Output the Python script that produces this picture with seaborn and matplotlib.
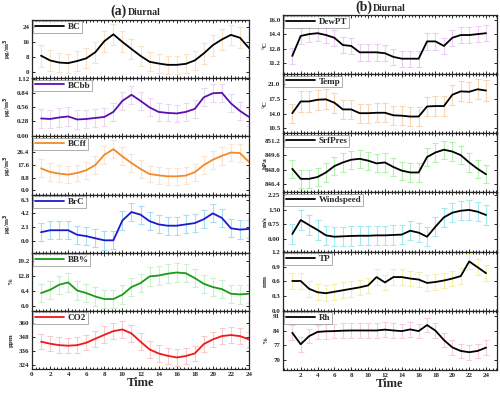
import numpy as np
import pandas as pd
import seaborn as sns
import matplotlib.pyplot as plt
from matplotlib.ticker import MultipleLocator

sns.set_style("ticks")
plt.rcParams['font.family'] = ['Liberation Serif', 'DejaVu Serif']
plt.rcParams['font.weight'] = 'bold'
plt.rcParams['mathtext.default'] = 'bf'

hours = list(range(1, 25))

# Left column (a)
bc = [8.8, 6.3, 5.2, 4.9, 6.0, 7.4, 10.6, 16.4, 20.0, 16.0, 12.3, 8.7,
      5.6, 4.7, 4.0, 4.0, 4.5, 6.3, 10.0, 14.3, 17.3, 19.7, 18.2, 12.8]
bc_err = [5.8, 5.5, 5.2, 5.0, 5.0, 5.2, 5.5, 5.6, 5.4, 5.5, 5.3, 5.2,
          5.0, 4.8, 4.8, 4.8, 5.0, 5.2, 5.5, 5.6, 5.5, 5.4, 5.6, 5.8]
bcbb = [0.34, 0.33, 0.36, 0.38, 0.32, 0.33, 0.35, 0.37, 0.47, 0.69, 0.81, 0.69,
        0.56, 0.47, 0.45, 0.44, 0.47, 0.53, 0.76, 0.84, 0.85, 0.64, 0.49, 0.37]
bcbb_err = [0.18, 0.18, 0.18, 0.19, 0.18, 0.18, 0.18, 0.18, 0.18, 0.18, 0.18, 0.18,
            0.18, 0.18, 0.17, 0.17, 0.18, 0.18, 0.18, 0.18, 0.18, 0.18, 0.18, 0.18]
bcff = [15.3, 12.8, 11.7, 11.0, 12.1, 14.0, 17.6, 24.7, 28.6, 23.6, 19.0, 14.9,
        11.4, 10.5, 9.8, 9.8, 10.3, 12.6, 17.6, 21.3, 24.0, 26.3, 25.9, 19.7]
bcff_err = [6.2, 6.0, 5.8, 5.8, 5.8, 6.0, 6.0, 6.2, 6.2, 6.2, 6.0, 6.0,
            5.8, 5.8, 5.8, 5.8, 5.8, 6.0, 6.0, 6.2, 6.2, 6.2, 6.2, 6.2]
brc = [1.3, 1.6, 1.6, 1.6, 0.9, 0.7, 0.36, 0.05, 0.05, 3.1, 4.4, 4.0,
       3.0, 2.5, 2.3, 2.3, 2.5, 2.7, 3.3, 4.2, 3.5, 1.9, 1.7, 1.8]
brc_err = [1.4, 1.4, 1.4, 1.4, 1.4, 1.4, 1.4, 1.5, 1.4, 1.4, 1.4, 1.4,
           1.4, 1.4, 1.4, 1.4, 1.4, 1.4, 1.4, 1.4, 1.4, 1.4, 1.4, 1.4]
bbp = [5.5, 6.9, 9.1, 10.1, 6.6, 5.5, 4.0, 2.9, 2.9, 4.8, 8.1, 9.8,
       12.7, 13.1, 13.9, 14.4, 14.1, 12.0, 9.5, 8.1, 7.2, 5.2, 4.9, 5.2]
bbp_err = [4.0, 4.0, 4.0, 4.0, 4.0, 4.0, 4.0, 4.0, 4.0, 4.0, 4.0, 4.0,
           4.0, 4.0, 4.0, 4.0, 4.0, 4.0, 4.0, 4.0, 4.0, 4.0, 4.0, 4.0]
co2 = [344.0, 342.3, 341.1, 340.6, 341.1, 343.1, 346.5, 349.8, 352.9, 354.3, 351.0, 344.0,
       337.5, 334.1, 332.1, 330.7, 331.9, 334.1, 342.0, 345.9, 348.7, 349.6, 348.7, 345.9]
co2_err = [6.5, 6.5, 6.5, 6.5, 6.5, 6.5, 6.8, 7.0, 7.0, 7.0, 7.0, 7.0,
           7.0, 7.0, 7.0, 7.0, 6.8, 6.5, 6.5, 6.5, 6.5, 6.5, 6.5, 6.5]

# Right column (b)
dewpt = [12.0, 14.2, 14.4, 14.5, 14.3, 14.0, 13.2, 13.1, 12.4, 12.4, 12.4, 12.3,
         11.9, 11.7, 11.7, 11.7, 13.6, 13.6, 13.1, 14.0, 14.3, 14.3, 14.4, 14.5]
dewpt_err = [0.9, 0.9, 0.9, 0.9, 0.9, 0.9, 0.9, 0.9, 0.9, 0.9, 0.9, 0.9,
             0.9, 0.9, 0.9, 0.9, 0.9, 0.9, 0.9, 0.9, 0.9, 0.9, 0.9, 0.9]
temp = [14.1, 16.9, 16.9, 17.3, 17.4, 16.6, 15.0, 15.0, 14.1, 14.1, 14.2, 14.2,
        13.6, 13.5, 13.3, 13.3, 15.7, 15.8, 15.8, 18.5, 19.3, 19.2, 19.8, 19.5]
temp_err = [2.3, 2.4, 2.4, 2.4, 2.4, 2.4, 2.3, 2.3, 2.3, 2.3, 2.3, 2.3,
            2.2, 2.2, 2.2, 2.2, 2.3, 2.3, 2.3, 2.4, 2.4, 2.4, 2.4, 2.4]
srfpres = [848.1, 847.0, 847.0, 847.2, 847.7, 848.4, 848.8, 849.1, 849.2, 849.0, 848.7, 848.8,
           848.3, 847.9, 847.7, 847.7, 849.4, 849.9, 850.2, 850.0, 849.6, 848.8, 848.1, 847.5]
srfpres_err = [1.0, 1.0, 1.0, 1.0, 1.0, 1.0, 1.0, 1.0, 1.0, 1.0, 1.0, 1.0,
               1.0, 1.0, 1.0, 1.0, 1.0, 1.0, 1.0, 1.0, 1.0, 1.0, 1.0, 1.0]
wind = [0.24, 0.96, 0.70, 0.45, 0.17, 0.10, 0.12, 0.14, 0.15, 0.15, 0.17, 0.17,
        0.19, 0.21, 0.41, 0.31, 0.10, 0.62, 1.10, 1.34, 1.44, 1.48, 1.39, 1.22]
wind_err = [0.5, 0.5, 0.5, 0.5, 0.5, 0.5, 0.5, 0.5, 0.5, 0.5, 0.5, 0.5,
            0.5, 0.5, 0.5, 0.5, 0.5, 0.5, 0.5, 0.5, 0.5, 0.5, 0.5, 0.5]
tp = [0.61, 0.61, 0.45, 0.38, 0.36, 0.39, 0.42, 0.45, 0.48, 0.52, 0.69, 0.58,
      0.69, 0.69, 0.66, 0.64, 0.57, 0.59, 0.62, 0.66, 0.71, 1.01, 0.89, 0.77]
tp_err = [0.16, 0.16, 0.16, 0.16, 0.16, 0.16, 0.16, 0.16, 0.16, 0.16, 0.16, 0.16,
          0.16, 0.16, 0.16, 0.16, 0.16, 0.16, 0.16, 0.16, 0.16, 0.16, 0.16, 0.16]
rh = [83.0, 77.5, 81.4, 83.4, 83.7, 83.8, 84.0, 84.1, 84.1, 84.1, 84.1, 84.5,
      84.1, 83.8, 84.6, 83.8, 86.7, 84.0, 79.5, 76.0, 74.3, 73.7, 74.3, 75.9]
rh_err = [3.5, 3.5, 3.5, 3.5, 3.5, 3.5, 3.5, 3.5, 3.5, 3.5, 3.5, 3.5,
          3.5, 3.5, 3.5, 3.5, 3.5, 3.5, 3.5, 3.5, 3.5, 3.5, 3.5, 3.5]

ug = r'μg/m$^{3}$'
# name, values, errors, line color, errorbar color, ylabel, ylim, yticks
left = [
    ("BC", bc, bc_err, "black", "#fbe2c6", ug, (-3, 27.5), [0, 8, 16, 24]),
    ("BCbb", bcbb, bcbb_err, "#5a10b0", "#ead8f2", ug, (-0.015, 1.14), [0.00, 0.28, 0.56, 0.84, 1.12]),
    ("BCff", bcff, bcff_err, "#f08a2a", "#fde4d0", ug, (-2.8, 37.5), [0.0, 8.8, 17.6, 26.4]),
    ("BrC", brc, brc_err, "#1a1ad0", "#a9ddf5", ug, (-1.85, 7.1), [0.0, 2.1, 4.2, 6.3]),
    ("BB%", bbp, bbp_err, "#1a9a1a", "#ccf0cc", "%", (-2.2, 23), [0.0, 6.4, 12.8, 19.2]),
    ("CO2", co2, co2_err, "#f01818", "#f8caca", "ppm", (321, 370), [324, 336, 348, 360]),
]
right = [
    ("DewPT", dewpt, dewpt_err, "black", "#ecccf6", "°C", (10.0, 16.5), [11.2, 12.8, 14.4, 16.0]),
    ("Temp", temp, temp_err, "black", "#f6d6b6", "°C", (9.3, 23.4), [10.5, 14.0, 17.5, 21.0]),
    ("SrfPres", srfpres, srfpres_err, "black", "#b6f0b0", "hPa", (845.5, 852.0), [846.4, 848.0, 849.6, 851.2]),
    ("Windspeed", wind, wind_err, "black", "#a2eaf2", "m/s", (-0.67, 2.38), [0.00, 0.75, 1.50, 2.25]),
    ("TP", tp, tp_err, "black", "#f5f0a6", "mm", (0.0, 1.21), [0.0, 0.3, 0.6, 0.9, 1.2]),
    ("Rh", rh, rh_err, "black", "#f6cce2", "%", (65.2, 93.5), [70, 77, 84, 91]),
]

fig = plt.figure(figsize=(5, 3.98), dpi=100)


def draw_column(panels, x0, w, y_top, y_bot, xlim, xticks, lab_x, fmt_list):
    n = len(panels)
    h = (y_top - y_bot) / n
    for i, (name, vals, errs, lc, ec, ylab, ylim, yt) in enumerate(panels):
        ax = fig.add_axes([x0, y_top - (i + 1) * h, w, h])
        df = pd.DataFrame({"Time": hours, "val": vals, "err": errs})
        ax.errorbar(df["Time"], df["val"], yerr=df["err"], fmt="none",
                    ecolor=ec, elinewidth=0.8, capsize=2.2, capthick=0.8, zorder=1)
        sns.lineplot(data=df, x="Time", y="val", color=lc, lw=1.3, ax=ax,
                     label=name, zorder=3)
        ax.set_xlim(*xlim)
        ax.set_ylim(*ylim)
        ax.set_yticks(yt)
        ax.set_yticklabels([fmt_list[i].format(v) for v in yt])
        ax.set_xticks(xticks)
        ax.xaxis.set_minor_locator(MultipleLocator(0.4))
        ax.tick_params(axis="both", which="both", direction="in", top=True,
                       right=True, labelsize=5, width=0.7, pad=2)
        ax.tick_params(which="major", length=2.5)
        ax.tick_params(which="minor", length=1.3)
        for sp in ax.spines.values():
            sp.set_linewidth(0.9)
        ax.set_ylabel(ylab, fontsize=5, fontweight="bold", labelpad=1)
        ax.yaxis.set_label_coords(lab_x, 0.5)
        leg = ax.legend(loc="upper left", fontsize=6.5, handlelength=3.2,
                        frameon=True, fancybox=False, borderaxespad=0.15,
                        borderpad=0.2, handletextpad=0.4)
        leg.get_frame().set_edgecolor("#888888")
        leg.get_frame().set_linewidth(0.6)
        for t in leg.get_texts():
            t.set_fontweight("bold")
        if i < n - 1:
            ax.set_xlabel("")
            ax.tick_params(labelbottom=False)
        else:
            ax.set_xlabel("Time", fontsize=9, fontweight="bold", labelpad=0)


fmt_left = ["{:.0f}", "{:.2f}", "{:.1f}", "{:.1f}", "{:.1f}", "{:.0f}"]
fmt_right = ["{:.1f}", "{:.1f}", "{:.1f}", "{:.2f}", "{:.1f}", "{:.0f}"]

draw_column(left, 0.064, 0.434, 0.9497, 0.0729, (0, 24), list(range(0, 25, 2)), -0.085, fmt_left)
draw_column(right, 0.566, 0.428, 0.9623, 0.0704, (-0.1, 25.3), list(range(2, 25, 2)), -0.07, fmt_right)

fig.text(0.254, 0.963, "(a)", fontsize=10, fontweight="bold", ha="right", va="baseline")
fig.text(0.256, 0.963, "Diurnal", fontsize=7, fontweight="bold", ha="left", va="baseline")
fig.text(0.744, 0.973, "(b)", fontsize=10, fontweight="bold", ha="right", va="baseline")
fig.text(0.746, 0.973, "Diurnal", fontsize=7, fontweight="bold", ha="left", va="baseline")

plt.savefig("out.png", dpi=100)
